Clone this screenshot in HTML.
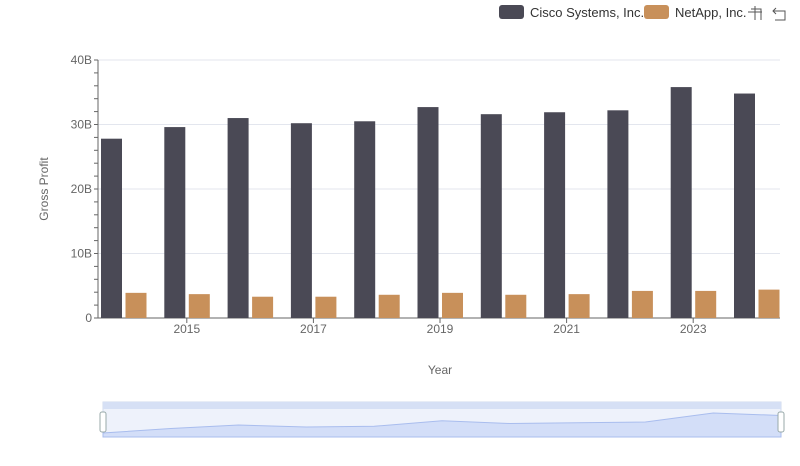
<!DOCTYPE html>
<html><head><meta charset="utf-8"><style>
body{margin:0;background:#fff;font-family:"Liberation Sans",sans-serif;}
svg text{font-family:"Liberation Sans",sans-serif;}
</style></head><body>
<svg id="c" width="800" height="461">
<g>
<rect x="499" y="5" width="25" height="14" rx="3" fill="#4a4955"/>
<text x="530" y="17" font-size="13" fill="#333">Cisco Systems, Inc.</text>
<rect x="644" y="5" width="25" height="14" rx="3" fill="#c8905a"/>
<text x="675" y="17" font-size="13" fill="#333">NetApp, Inc.</text>
<g stroke="#555" fill="none"><path d="M748 12h14M755 6v14M751 9h10v11"/></g>
<g stroke="#555" fill="none"><path d="M776 8l-3 3 3 3M773 11h12v9h-10"/></g>
</g>
<g id="grid"></g><g id="axes"></g><g id="bars"></g>
<text x="48" y="189" font-size="12" fill="#666" transform="rotate(-90 48 189)" text-anchor="middle">Gross Profit</text>
<text x="440" y="374" font-size="12" fill="#666" text-anchor="middle">Year</text>
<g>
<rect x="103" y="402" width="678" height="35" fill="#eef2fb" stroke="#d2dbee"/>
<rect x="103" y="402" width="678" height="7" fill="#d6e0f5"/>
<path id="brushArea" fill="#d3def8" stroke="#a9bdee"/>
<rect x="100" y="412" width="6" height="20" rx="2" fill="#fff" stroke="#9aa"/>
<rect x="778" y="412" width="6" height="20" rx="2" fill="#fff" stroke="#9aa"/>
</g>
</svg>
<script>
const years=["2014","2015","2016","2017","2018","2019","2020","2021","2022","2023","2024"];
const cisco=[27.8,29.6,31.0,30.2,30.5,32.7,31.6,31.9,32.2,35.8,34.8];
const netapp=[3.9,3.7,3.3,3.3,3.6,3.9,3.6,3.7,4.2,4.2,4.4];
const yTicks=[0,10,20,30,40];
const NS="http://www.w3.org/2000/svg";
const y=v=>318-v*6.45;
const xc=i=>123.5+63.3*i;
function mk(t,a,p){const e=document.createElementNS(NS,t);for(const k in a)e.setAttribute(k,a[k]);p.appendChild(e);return e;}
const grid=document.getElementById('grid'),axes=document.getElementById('axes'),bars=document.getElementById('bars');
yTicks.forEach(v=>{
 const l=mk('line',{x1:98,x2:780,y1:y(v),y2:y(v),stroke:v?"#e3e6ee":"#666"},grid);
 
 
 const t=mk('text',{x:92,y:y(v)+4,"font-size":12,fill:"#666","text-anchor":"end"},axes);
 t.textContent=v?v+"B":"0";
 
 
});
mk('line',{x1:98,x2:98,y1:60,y2:318,stroke:"#666"},axes);
for(let v=0;v<=40;v+=2){mk('line',{x1:94,x2:98,y1:y(v),y2:y(v),stroke:"#666"},axes);}
years.forEach((yr,i)=>{
 if(i%2==1){
  mk('line',{x1:xc(i),x2:xc(i),y1:318,y2:323,stroke:"#666"},axes);
  const t=mk('text',{x:xc(i),y:333,"font-size":12,fill:"#666","text-anchor":"middle"},axes);
  t.textContent=yr;
  
  
 }
 const a=mk('rect',{x:xc(i)-22.5,y:y(cisco[i]),width:21,height:318-y(cisco[i]),fill:"#4a4955"},bars);
 
 
 const b=mk('rect',{x:xc(i)+2,y:y(netapp[i]),width:21,height:318-y(netapp[i]),fill:"#c8905a"},bars);
 
 
});
let d="M103 437";
const mn=Math.min(...cisco),mx=Math.max(...cisco);
cisco.forEach((v,i)=>{const x=103+678*i/(cisco.length-1);d+=` L${x} ${433-(v-mn)/(mx-mn)*20}`;});
d+=" L781 437Z";
document.getElementById('brushArea').setAttribute('d',d);
</script>
</body></html>
